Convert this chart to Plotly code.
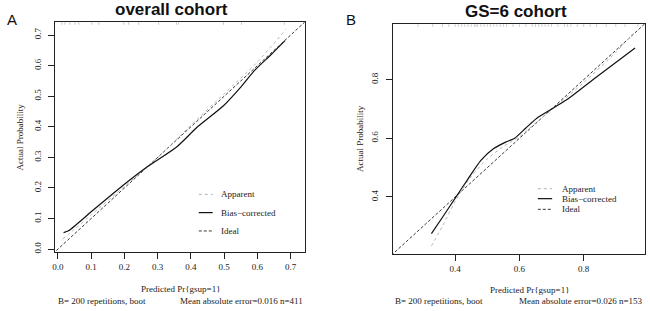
import plotly.graph_objects as go

# ---- Panel A: overall cohort ----
a_app_x = [0.014, 0.05, 0.1, 0.2, 0.3, 0.4, 0.5, 0.6, 0.686]
a_app_y = [0.033, 0.065, 0.112, 0.205, 0.300, 0.405, 0.508, 0.612, 0.719]
a_bc_x = [0.017, 0.032, 0.1, 0.2, 0.27, 0.358, 0.42, 0.498, 0.55, 0.593, 0.64, 0.683]
a_bc_y = [0.054, 0.060, 0.122, 0.212, 0.270, 0.335, 0.400, 0.469, 0.530, 0.586, 0.635, 0.682]
a_rug = [0.012, 0.021, 0.036, 0.051, 0.063, 0.102, 0.123, 0.198, 0.213, 0.243,
         0.303, 0.357, 0.363, 0.498, 0.552, 0.681]
a_xticks = [0.0, 0.1, 0.2, 0.3, 0.4, 0.5, 0.6, 0.7]
a_yticks = [0.0, 0.1, 0.2, 0.3, 0.4, 0.5, 0.6, 0.7]
a_range_x = [-0.008, 0.742]
a_range_y = [-0.01, 0.743]

# ---- Panel B: GS=6 cohort ----
b_app_x = [0.326, 0.36, 0.4, 0.45, 0.5, 0.55, 0.6, 0.65, 0.7, 0.8, 0.9, 0.96]
b_app_y = [0.233, 0.300, 0.385, 0.470, 0.530, 0.572, 0.605, 0.652, 0.697, 0.790, 0.893, 0.965]
b_bc_x = [0.326, 0.36, 0.4, 0.44, 0.48, 0.52, 0.557, 0.585, 0.62, 0.656, 0.748, 0.842, 0.96]
b_bc_y = [0.275, 0.330, 0.396, 0.462, 0.525, 0.565, 0.587, 0.600, 0.635, 0.670, 0.732, 0.811, 0.908]
b_rug = [0.284, 0.33, 0.36, 0.38, 0.40, 0.41, 0.42, 0.43, 0.44, 0.45, 0.46, 0.465,
         0.47, 0.48, 0.49, 0.50, 0.51, 0.52, 0.53, 0.54, 0.55, 0.56, 0.58, 0.60,
         0.62, 0.64, 0.65, 0.66, 0.67, 0.68, 0.69, 0.70, 0.72, 0.74, 0.75, 0.76,
         0.78, 0.80, 0.82, 0.84, 0.87, 0.90, 0.929, 0.969]
b_xticks = [0.4, 0.6, 0.8]
b_yticks = [0.4, 0.6, 0.8]
b_range_x = [0.206, 0.991]
b_range_y = [0.205, 0.99]

legend_names = ["Apparent", "Bias\u2212corrected", "Ideal"]

W, H = 650, 311
SERIF = "Liberation Serif, Times New Roman, serif"
SANS = "Liberation Sans, Arial, sans-serif"

APP_STYLE = dict(color="#b4b4b4", width=1, dash="dot")
BC_STYLE = dict(color="#111111", width=1.2)
IDEAL_STYLE = dict(color="#3a3a3a", width=1, dash="3px,2px")

fig = go.Figure()

def px(x):
    return x / W

def py(y):
    return 1 - y / H

def add_panel(xa, ya, app_x, app_y, bc_x, bc_y, rx, ry):
    lo = min(rx[0], ry[0]) - 0.05
    hi = max(rx[1], ry[1]) + 0.05
    fig.add_trace(go.Scatter(x=[lo, hi], y=[lo, hi], mode="lines", line=IDEAL_STYLE,
                             xaxis=xa, yaxis=ya, showlegend=False, hoverinfo="skip"))
    fig.add_trace(go.Scatter(x=app_x, y=app_y, mode="lines",
                             line=dict(shape="spline", smoothing=0.6, **APP_STYLE),
                             xaxis=xa, yaxis=ya, showlegend=False))
    fig.add_trace(go.Scatter(x=bc_x, y=bc_y, mode="lines",
                             line=dict(shape="spline", smoothing=0.6, **BC_STYLE),
                             xaxis=xa, yaxis=ya, showlegend=False))

add_panel("x", "y", a_app_x, a_app_y, a_bc_x, a_bc_y, a_range_x, a_range_y)
add_panel("x2", "y2", b_app_x, b_app_y, b_bc_x, b_bc_y, b_range_x, b_range_y)

axis_common = dict(showline=True, mirror=True, linecolor="#222222", linewidth=1,
                   ticks="outside", ticklen=6, tickcolor="#222222", tickwidth=1,
                   showgrid=False, zeroline=False,
                   tickfont=dict(family=SERIF, size=9, color="#222222"))

fig.update_layout(
    width=W, height=H, margin=dict(l=0, r=0, t=0, b=0),
    paper_bgcolor="white", plot_bgcolor="white", showlegend=False,
    xaxis=dict(domain=[px(52.5), px(303)], range=a_range_x, tickvals=a_xticks,
               ticktext=[f"{v:.1f}" for v in a_xticks], anchor="y", **axis_common),
    yaxis=dict(domain=[py(253), py(22)], range=a_range_y, tickvals=a_yticks,
               ticktext=[f"{v:.1f}" for v in a_yticks], tickangle=-90, anchor="x",
               ticklabelstandoff=4, **axis_common),
    xaxis2=dict(domain=[px(391.7), px(645)], range=b_range_x, tickvals=b_xticks,
                ticktext=[f"{v:.1f}" for v in b_xticks], anchor="y2", **axis_common),
    yaxis2=dict(domain=[py(255), py(24)], range=b_range_y, tickvals=b_yticks,
                ticktext=[f"{v:.1f}" for v in b_yticks], tickangle=-90, anchor="x2",
                ticklabelstandoff=4, **axis_common),
)

# rug of predicted values at top of each panel
for xs, xr, yr in [(a_rug, "x", "y domain"), (b_rug, "x2", "y2 domain")]:
    for v in xs:
        fig.add_shape(type="line", xref=xr, yref=yr, x0=v, x1=v, y0=0.998, y1=0.988,
                      line=dict(color="#c4c4c4", width=1))

ann = []
def text(x, y, s, size=9, family=SERIF, xanchor="center", angle=0, bold=False, color="#222222"):
    if bold:
        s = f"<b>{s}</b>"
    ann.append(dict(x=px(x), y=py(y), xref="paper", yref="paper", text=s, showarrow=False,
                    xanchor=xanchor, yanchor="middle", textangle=angle,
                    font=dict(family=family, size=size, color=color)))

# titles and panel letters
text(169, 10, "overall cohort", size=17, family=SANS, bold=True, color="#111111")
text(515, 12, "GS=6 cohort", size=17, family=SANS, bold=True, color="#111111")
text(9, 20, "A", size=15, family=SANS, color="#111111")
text(350, 20, "B", size=15, family=SANS, color="#111111")

# axis titles
text(178, 290, "Predicted Pr{gsup=1}")
text(529, 291, "Predicted Pr{gsup=1}")
text(17, 137, "Actual Probability", angle=-90)
text(358, 139, "Actual Probability", angle=-90)

# footers
text(53, 301.5, "B= 200 repetitions, boot", xanchor="left")
text(303.5, 301.5, "Mean absolute error=0.016 n=411", xanchor="right")
text(391.7, 302, "B= 200 repetitions, boot", xanchor="left")
text(645, 302, "Mean absolute error=0.026 n=153", xanchor="right")

# legends
styles = [APP_STYLE, BC_STYLE, IDEAL_STYLE]
for (x0, x1, xt, ys) in [(196.7, 210.7, 217, [195, 213.3, 231.7]),
                         (537.3, 551.7, 559.3, [189.3, 199.3, 210])]:
    for name, st, yy in zip(legend_names, styles, ys):
        fig.add_shape(type="line", xref="paper", yref="paper", x0=px(x0), x1=px(x1),
                      y0=py(yy), y1=py(yy), line=st)
        text(xt, yy, name, xanchor="left")

fig.update_layout(annotations=ann)
fig.write_html("out.html", config={"displayModeBar": False},
               post_script="document.body.style.margin='0';document.body.style.overflow='hidden';")
